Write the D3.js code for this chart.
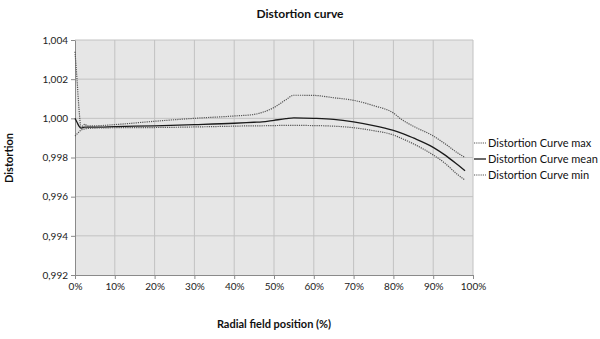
<!DOCTYPE html>
<html><head><meta charset="utf-8">
<script src="https://cdn.jsdelivr.net/npm/d3@7"></script>
<style>body{margin:0;background:#fff;} svg{display:block;font-family:Lato,"Open Sans",sans-serif;}</style>
</head><body>
<svg id="c" width="600" height="339"></svg>
<script>
const xPos = [0,0.5,1,1.5,2,2.5,3,5,10,20,30,40,45,47,50,53,55,60,65,70,75,80,82,85,90,93,96,98];
const maxVals = [1.00340,1.00200,1.00050,0.99955,0.99962,0.99970,0.99962,0.99962,0.99968,0.99985,1.00000,1.00012,1.00020,1.00030,1.00055,1.00095,1.00118,1.00117,1.00105,1.00092,1.00065,1.00027,0.99995,0.99960,0.99910,0.99870,0.99825,0.99800];
const meanVals = [1.00000,0.99980,0.99960,0.99950,0.99953,0.99955,0.99955,0.99955,0.99958,0.99962,0.99968,0.99975,0.99980,0.99982,0.99990,0.99998,1.00002,1.00000,0.99995,0.99982,0.99963,0.99938,0.99925,0.99900,0.99852,0.99812,0.99765,0.99732];
const minVals = [0.99910,0.99920,0.99930,0.99940,0.99944,0.99947,0.99948,0.99950,0.99952,0.99953,0.99956,0.99960,0.99962,0.99962,0.99963,0.99964,0.99964,0.99963,0.99960,0.99952,0.99937,0.99915,0.99898,0.99870,0.99813,0.99770,0.99715,0.99685];
const yTicks = [0.992,0.994,0.996,0.998,1.000,1.002,1.004];
const xTicks = [0,10,20,30,40,50,60,70,80,90,100];
const seriesNames = ["Distortion Curve max","Distortion Curve mean","Distortion Curve min"];

const svg = d3.select("#c");
const L=75, R=473, T=40, B=275;
const x = d3.scaleLinear().domain([0,100]).range([L,R]);
const y = d3.scaleLinear().domain([0.992,1.004]).range([B,T]);

svg.append("rect").attr("x",L).attr("y",T).attr("width",R-L).attr("height",B-T).attr("fill","#e6e6e6");
svg.append("g").selectAll("line").data(yTicks.slice(1)).join("line")
  .attr("x1",L).attr("x2",R).attr("y1",d=>y(d)).attr("y2",d=>y(d)).attr("stroke","#c2c2c2").attr("stroke-width",1);
svg.append("g").selectAll("line").data(xTicks.slice(1)).join("line")
  .attr("y1",T).attr("y2",B).attr("x1",d=>x(d)).attr("x2",d=>x(d)).attr("stroke","#c2c2c2").attr("stroke-width",1);

const fmtY = d=>d3.format(".3f")(d).replace(".",",");
const yAxis = svg.append("g").attr("transform",`translate(${L},0)`)
  .call(d3.axisLeft(y).tickValues(yTicks).tickFormat(fmtY).tickSize(4).tickSizeOuter(0));
const xAxis = svg.append("g").attr("transform",`translate(0,${B})`)
  .call(d3.axisBottom(x).tickValues(xTicks).tickFormat(d=>d+"%").tickSize(4).tickSizeOuter(0));
[yAxis,xAxis].forEach(a=>{
  a.select(".domain").attr("stroke","#8a8a8a");
  a.selectAll(".tick line").attr("stroke","#8a8a8a");
  a.selectAll("text").attr("fill","#222").attr("font-size","10px").attr("font-family","Lato,sans-serif");
});
yAxis.selectAll("text").attr("x",-7);
xAxis.selectAll("text").attr("y",8);

const line = d3.line().x((d,i)=>x(xPos[i])).y(d=>y(d)).curve(d3.curveMonotoneX);
const styles = [
  {vals:maxVals, stroke:"#555", w:1.2, dash:"1.2,1"},
  {vals:meanVals, stroke:"#1a1a1a", w:1.3, dash:null},
  {vals:minVals, stroke:"#555", w:1.2, dash:"1.2,1"}
];
styles.forEach(s=>{
  svg.append("path").datum(s.vals).attr("d",line).attr("fill","none")
    .attr("stroke",s.stroke).attr("stroke-width",s.w).attr("stroke-dasharray",s.dash);
});

const lg = svg.append("g");
seriesNames.forEach((n,i)=>{
  const yy = 143 + i*16;
  lg.append("line").attr("x1",474).attr("x2",486).attr("y1",yy).attr("y2",yy)
    .attr("stroke",styles[i].stroke).attr("stroke-width",styles[i].w).attr("stroke-dasharray",styles[i].dash);
  lg.append("text").attr("x",488).attr("y",yy+4).attr("font-size","11px").attr("fill","#111").text(n);
});

svg.append("text").attr("x",300).attr("y",18).attr("text-anchor","middle").attr("font-weight","bold").attr("font-size","12px").attr("fill","#111").text("Distortion curve");
svg.append("text").attr("x",274).attr("y",328).attr("text-anchor","middle").attr("font-weight","bold").attr("font-size","11px").attr("fill","#111").text("Radial field position (%)");
svg.append("text").attr("transform","translate(13,158) rotate(-90)").attr("text-anchor","middle").attr("font-weight","bold").attr("font-size","11px").attr("fill","#111").text("Distortion");
</script>
</body></html>
